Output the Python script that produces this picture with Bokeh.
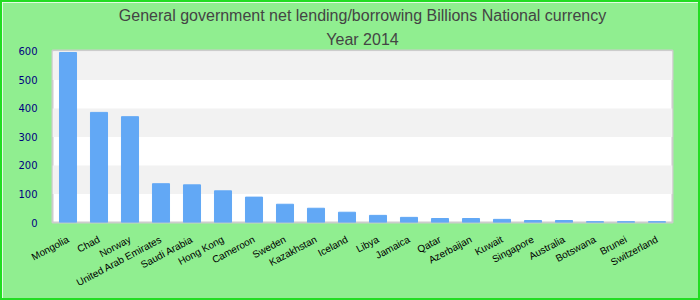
from bokeh.plotting import figure
from bokeh.models import Range1d, Title, FixedTicker
from bokeh.embed import file_html
from bokeh.resources import INLINE

countries = ["Mongolia", "Chad", "Norway", "United Arab Emirates", "Saudi Arabia",
             "Hong Kong", "Cameroon", "Sweden", "Kazakhstan", "Iceland", "Libya",
             "Jamaica", "Qatar", "Azerbaijan", "Kuwait", "Singapore", "Australia",
             "Botswana", "Brunei", "Switzerland"]
values = [596, 386, 371, 136, 132, 111, 89, 64, 50, 36, 25, 18, 14, 14, 11, 7, 7, 3, 3, 3]
y_ticks = [0, 100, 200, 300, 400, 500, 600]

p = figure(x_range=countries, y_range=Range1d(0, 603), width=700, height=300,
           output_backend="svg", toolbar_location=None,
           min_border_left=50, min_border_right=30, min_border_bottom=80, min_border_top=10)
p.x_range.range_padding = 0

p.background_fill_color = "white"
p.border_fill_color = "#90ee90"
p.outline_line_color = "#cccccc"
p.outline_line_width = 2
p.styles = {"border": "2px solid #22dd22", "box-sizing": "border-box"}

p.vbar(x=countries, top=values, width=0.55, color="#62a8f5")

p.ygrid.grid_line_color = None
p.ygrid.band_fill_color = "#f2f2f2"
p.ygrid.band_fill_alpha = 1.0
p.xgrid.grid_line_color = None

p.yaxis.ticker = FixedTicker(ticks=y_ticks)
p.yaxis.axis_line_color = None
p.yaxis.major_tick_line_color = None
p.yaxis.minor_tick_line_color = None
p.yaxis.major_label_text_color = "#000080"
p.yaxis.major_label_text_font = "DejaVu Sans"
p.yaxis.major_label_text_font_size = "10px"
p.yaxis.major_label_standoff = 9

p.xaxis.axis_line_color = None
p.xaxis.major_tick_line_color = None
p.xaxis.major_label_orientation = 0.49
p.xaxis.major_label_text_color = "black"
p.xaxis.major_label_text_font = "Liberation Sans"
p.xaxis.major_label_text_font_size = "10px"
p.xaxis.major_label_standoff = 10

p.title = None
t2 = Title(text="Year 2014", align="center", text_font="Liberation Sans",
           text_font_size="16px", text_font_style="normal", text_color="#444444",
           standoff=5)
t1 = Title(text="General government net lending/borrowing Billions National currency",
           align="center", text_font="Liberation Sans", text_font_size="16px",
           text_font_style="normal", text_color="#444444", standoff=5)
p.add_layout(t2, "above")
p.add_layout(t1, "above")

open("out.html", "w").write(file_html(p, INLINE))
